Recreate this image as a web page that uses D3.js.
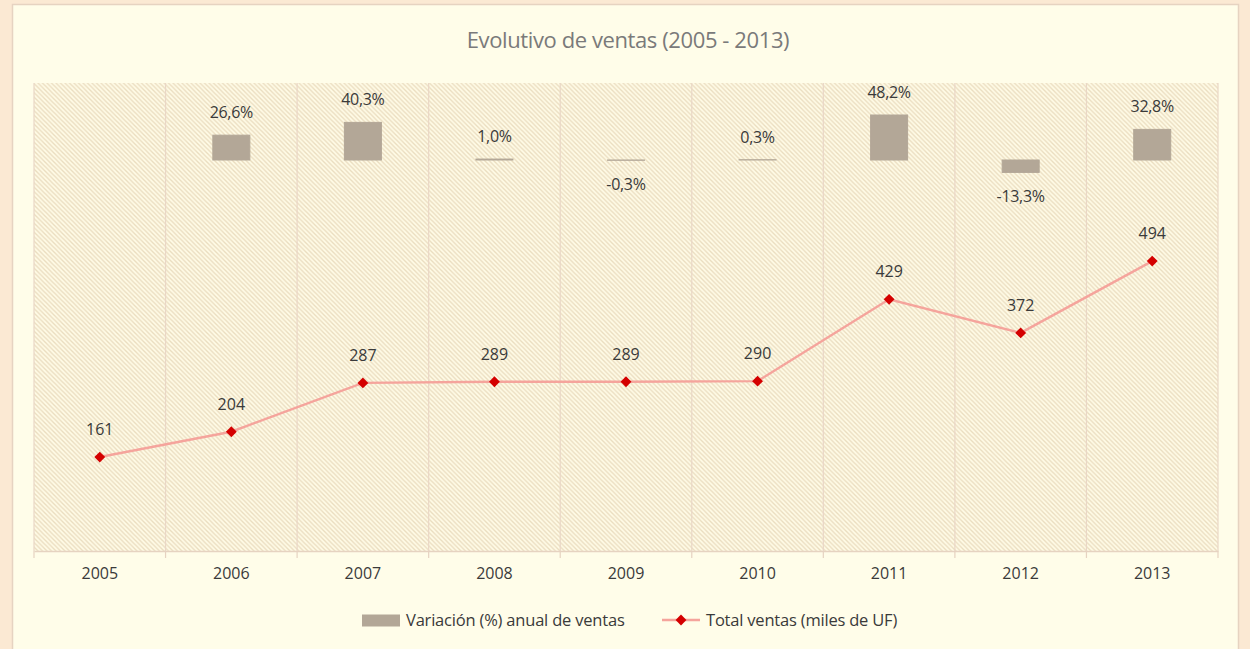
<!DOCTYPE html>
<html>
<head>
<meta charset="utf-8">
<script src="https://cdn.jsdelivr.net/npm/d3@7"></script>
<style>
  html, body { margin: 0; padding: 0; background: #fbe9d3; }
  svg { display: block; }
  text { font-family: "Open Sans", "DejaVu Sans", sans-serif; }
</style>
</head>
<body>
<script>
// ---- data ----
const years = ["2005","2006","2007","2008","2009","2010","2011","2012","2013"];
const totalVentas = [161, 204, 287, 289, 289, 290, 429, 372, 494];
const variacion = [null, 26.6, 40.3, 1.0, -0.3, 0.3, 48.2, -13.3, 32.8];
const variacionLabels = [null, "26,6%", "40,3%", "1,0%", "-0,3%", "0,3%", "48,2%", "-13,3%", "32,8%"];
const title = "Evolutivo de ventas (2005 - 2013)";
const legendBar = "Variación (%) anual de ventas";
const legendLine = "Total ventas (miles de UF)";

const W = 1250, H = 649;
const plot = {left: 34, right: 1218, top: 83, bottom: 551};

const svg = d3.select("body").append("svg").attr("width", W).attr("height", H);

// hatch pattern
const defs = svg.append("defs");
const pat = defs.append("pattern").attr("id", "hatch")
  .attr("patternUnits", "userSpaceOnUse").attr("width", 4.5).attr("height", 4.5);
pat.append("rect").attr("width", 4.5).attr("height", 4.5).attr("fill", "#fffbe6");
pat.append("path").attr("d", "M-1,-1 L5.5,5.5 M-1,3.5 L1,5.5 M3.5,-1 L5.5,1")
  .attr("stroke", "#eadcbf").attr("stroke-width", 1.3);

// outer chart panel
svg.append("rect").attr("x", 12.5).attr("y", 4.5).attr("width", 1226).attr("height", 700)
  .attr("fill", "#fffde9").attr("stroke", "#e6d3c1").attr("stroke-width", 1.5);

// title
svg.append("text").attr("x", 628).attr("y", 48).attr("text-anchor", "middle")
  .attr("font-size", 22).attr("fill", "#7a7a7a").attr("letter-spacing", -0.4).text(title);

// scales
const x = d3.scaleBand().domain(years).range([plot.left, plot.right]).padding(0);
const yLine = d3.scaleLinear().domain([0, 800]).range([551.8, 81]);
const yBar = d3.scaleLinear().domain([-419, 82.5]).range([plot.bottom, plot.top]);

// plot area
svg.append("rect").attr("x", plot.left).attr("y", plot.top)
  .attr("width", plot.right - plot.left).attr("height", plot.bottom - plot.top)
  .attr("fill", "url(#hatch)");

// vertical gridlines at band edges
const edges = years.map(d => x(d)).concat([plot.right]);
svg.append("g").selectAll("line").data(edges).join("line")
  .attr("x1", d => d).attr("x2", d => d)
  .attr("y1", plot.top).attr("y2", plot.bottom)
  .attr("stroke", "#ead7c6").attr("stroke-width", 1.2);

// x axis
const xAxis = d3.axisBottom(x).tickSize(0).tickPadding(17);
const gx = svg.append("g").attr("transform", `translate(0,${plot.bottom})`).call(xAxis);
gx.select(".domain").attr("stroke", "#e6d3c1").attr("stroke-width", 1.5);
gx.selectAll("text").attr("font-size", 16).attr("fill", "#3a3a3a")
  .attr("font-family", "Open Sans").attr("letter-spacing", 0);
gx.selectAll(".edge").data(edges).join("line").attr("class", "edge")
  .attr("x1", d => d).attr("x2", d => d).attr("y1", 0).attr("y2", 7)
  .attr("stroke", "#e6d3c1").attr("stroke-width", 1.2);

// bars
const bw = 37;
const barData = years.map((y, i) => ({year: y, v: variacion[i], label: variacionLabels[i]}))
  .filter(d => d.v !== null);
svg.append("g").selectAll("rect").data(barData).join("rect")
  .attr("x", d => x(d.year) + x.bandwidth() / 2 - bw / 2)
  .attr("width", bw)
  .attr("y", d => Math.min(yBar(d.v), yBar(0)))
  .attr("height", d => Math.abs(yBar(d.v) - yBar(0)))
  .attr("fill", "#b3a797").attr("stroke", "#b3a797").attr("stroke-width", 1);

svg.append("g").selectAll("text").data(barData).join("text")
  .attr("x", d => x(d.year) + x.bandwidth() / 2)
  .attr("y", d => d.v >= 0 ? yBar(d.v) - 17 : yBar(d.v) + 30)
  .attr("text-anchor", "middle").attr("font-size", 16).attr("fill", "#3a3a3a")
  .attr("letter-spacing", -0.3)
  .text(d => d.label);

// line
const lineData = years.map((y, i) => ({year: y, v: totalVentas[i]}));
const line = d3.line().x(d => x(d.year) + x.bandwidth() / 2).y(d => yLine(d.v));
svg.append("path").datum(lineData).attr("d", line)
  .attr("fill", "none").attr("stroke", "#f5a49c").attr("stroke-width", 2.4);

const diamond = d3.symbol().type(d3.symbolDiamond2).size(75);
svg.append("g").selectAll("path").data(lineData).join("path")
  .attr("transform", d => `translate(${x(d.year) + x.bandwidth() / 2},${yLine(d.v)})`)
  .attr("d", diamond).attr("fill", "#d40000");

svg.append("g").selectAll("text").data(lineData).join("text")
  .attr("x", d => x(d.year) + x.bandwidth() / 2)
  .attr("y", d => yLine(d.v) - 22)
  .attr("text-anchor", "middle").attr("font-size", 16).attr("fill", "#3a3a3a")
  .attr("letter-spacing", 0)
  .text(d => d.v);

// legend
const lg = svg.append("g");
lg.append("rect").attr("x", 362).attr("y", 614.5).attr("width", 38).attr("height", 12).attr("fill", "#b3a797");
lg.append("text").attr("x", 406).attr("y", 626).attr("font-size", 16.5).attr("fill", "#3a3a3a")
  .attr("letter-spacing", -0.2).text(legendBar);
lg.append("line").attr("x1", 662).attr("x2", 700).attr("y1", 620).attr("y2", 620)
  .attr("stroke", "#f5a49c").attr("stroke-width", 2.4);
lg.append("path").attr("transform", "translate(681,620)").attr("d", diamond).attr("fill", "#d40000");
lg.append("text").attr("x", 706).attr("y", 626).attr("font-size", 16.5).attr("fill", "#3a3a3a")
  .attr("letter-spacing", -0.2).text(legendLine);
</script>
</body>
</html>
